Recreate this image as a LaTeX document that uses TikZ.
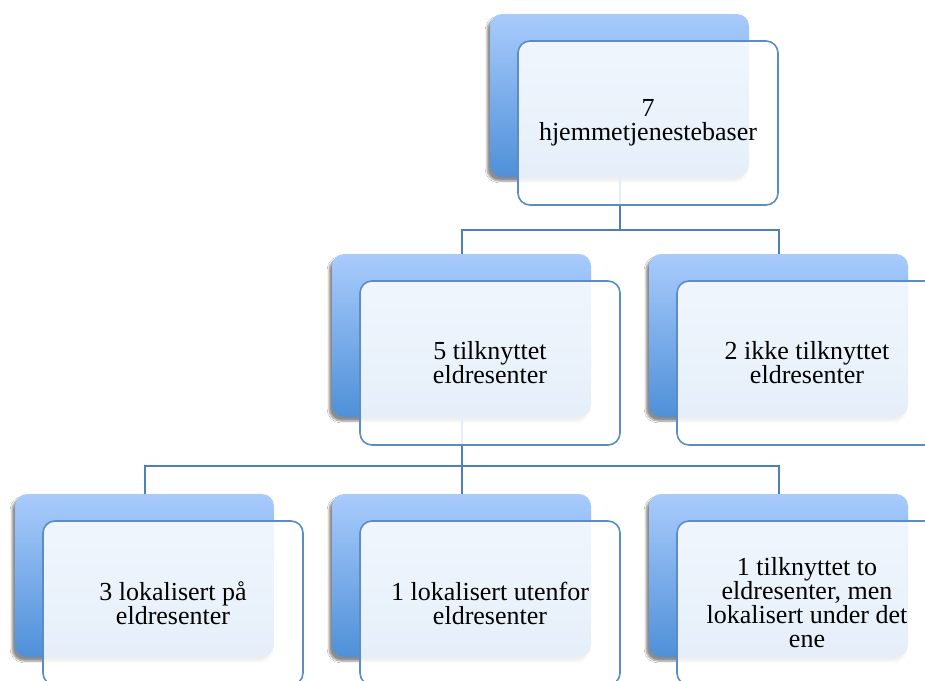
\documentclass[tikz,border=0pt]{standalone}
\usepackage{fontspec}
\setmainfont{Liberation Serif}
\usetikzlibrary{shadows.blur}
\definecolor{backtop}{HTML}{A9CBFC}
\definecolor{backbot}{HTML}{4E90D8}
\definecolor{edge}{HTML}{5B8DC4}
\definecolor{conn}{HTML}{4F7FB8}
\begin{document}
\begin{tikzpicture}[x=1pt,y=-1pt,
  backbox/.style={rectangle, rounded corners=12pt, minimum width=259pt, minimum height=163pt,
    inner sep=0pt, top color=backtop, bottom color=backbot, draw=none,
    blur shadow={shadow xshift=-3pt, shadow yshift=-4pt, shadow blur steps=6, shadow opacity=45}},
  frontbox/.style={rectangle, rounded corners=12pt, minimum width=260pt, minimum height=164pt,
    inner sep=0pt, draw=edge, line width=1.6pt, fill=white, fill opacity=0.86, text opacity=1,
    align=center, font=\fontsize{26}{24}\selectfont, text=black},
  connector/.style={draw=conn, line width=2pt}
]
\useasboundingbox (0,0) rectangle (925,680);
\fill[white] (0,0) rectangle (925,680);
% back boxes
\node[backbox] (b0) at (619.5,95.5) {};
\node[backbox] (b1) at (461.5,335.5) {};
\node[backbox] (b2) at (778.5,335.5) {};
\node[backbox] (b3) at (144.5,575.5) {};
\node[backbox] (b4) at (461.5,575.5) {};
\node[backbox] (b5) at (778.5,575.5) {};
% connectors
\coordinate (j0) at (619.5,229.5);
\coordinate (j1) at (461.5,466);
\draw[connector] (b0.south) -- (j0);
\draw[connector] (j0) -| (b1.north);
\draw[connector] (j0) -| (b2.north);
\draw[connector] (b1.south) -- (j1);
\draw[connector] (j1) -| (b3.north);
\draw[connector] (j1) -- (b4.north);
\draw[connector] (j1) -| (b5.north);
% front boxes
\node[frontbox] (f0) at (648,123) {7\\hjemmetjenestebaser};
\node[frontbox] (f1) at (490,363) {5 tilknyttet\\eldresenter};
\node[frontbox] (f2) at (807,363) {2 ikke tilknyttet\\eldresenter};
\node[frontbox] (f3) at (173,603) {3 lokalisert på\\eldresenter};
\node[frontbox] (f4) at (490,603) {1 lokalisert utenfor\\eldresenter};
\node[frontbox] (f5) at (807,603) {1 tilknyttet to\\eldresenter, men\\lokalisert under det\\ene};
\end{tikzpicture}
\end{document}
